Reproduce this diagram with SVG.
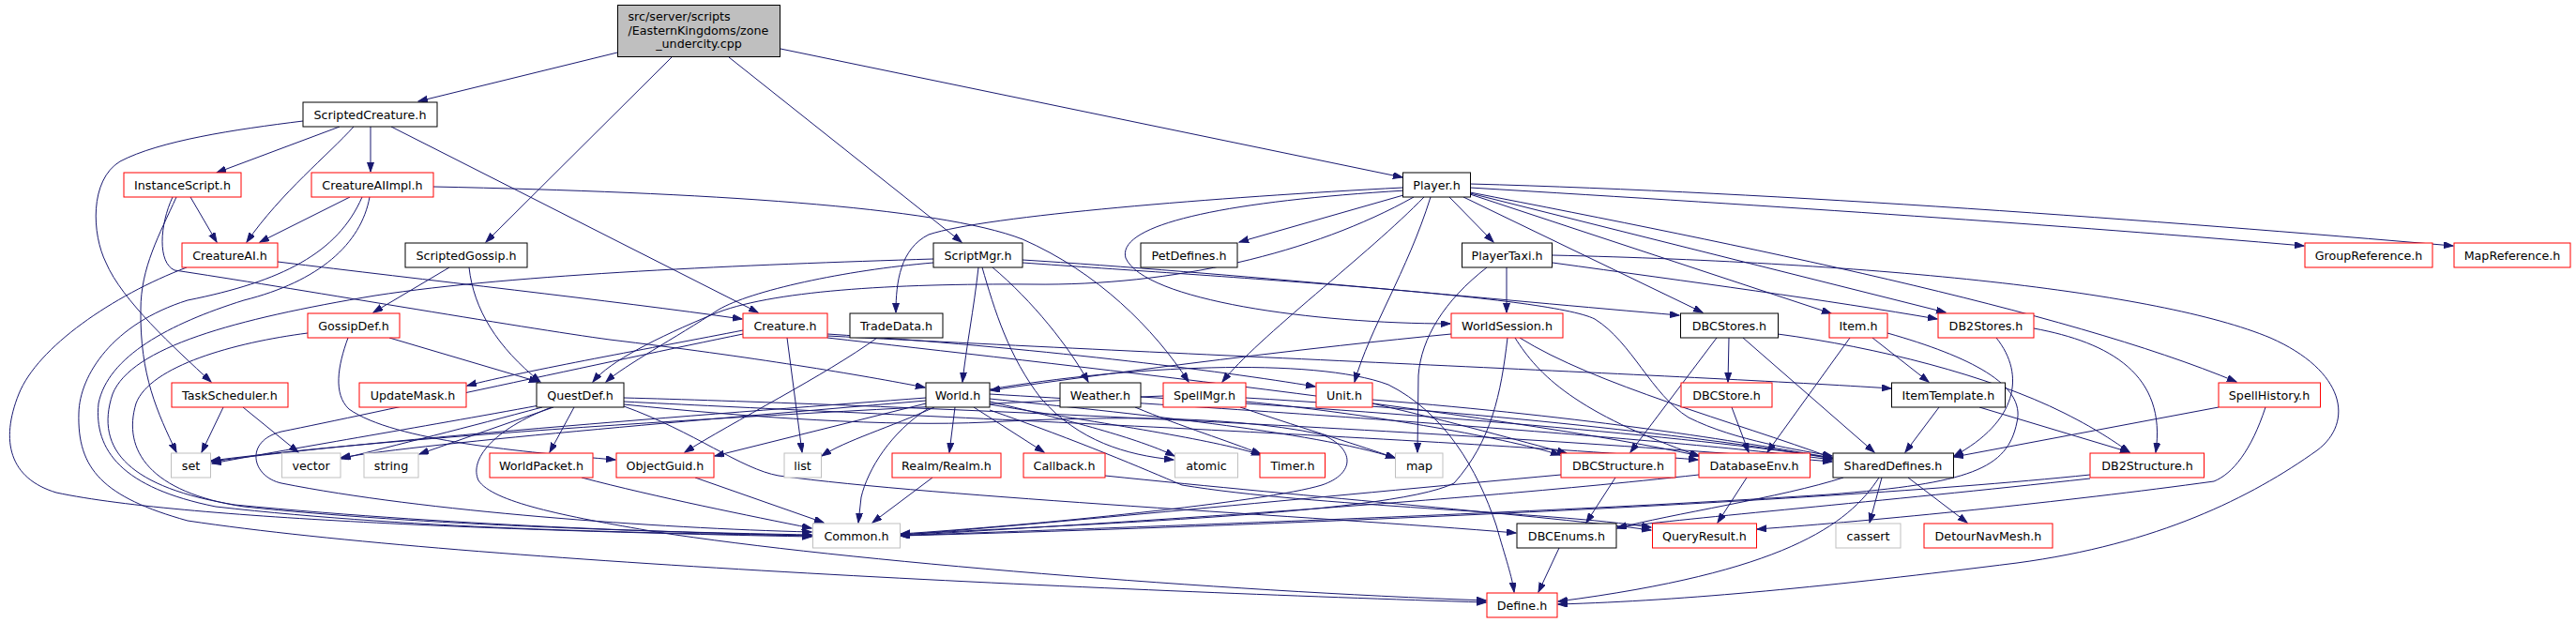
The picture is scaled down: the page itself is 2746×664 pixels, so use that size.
<svg xmlns="http://www.w3.org/2000/svg" width="2746" height="664" viewBox="0 0 2746 664">
<style>
text{font-family:"DejaVu Sans","Liberation Sans",sans-serif;font-size:12.7px;fill:#000;text-anchor:middle}
rect{fill:#fff;stroke-width:1}
.n rect{stroke:#000}
.r rect{stroke:#ff0000}
.g rect{stroke:#bfbfbf}
.m rect{fill:#bfbfbf;stroke:#000}
#edges path{fill:none;stroke:#191970;stroke-width:1;marker-end:url(#a)}
</style>
<defs>
<marker id="a" markerWidth="11" markerHeight="8" refX="10" refY="3.5" orient="auto" markerUnits="userSpaceOnUse"><path d="M0,0 L10,3.5 L0,7 z" fill="#191970" stroke="#191970" stroke-width="1"/></marker>
</defs>
<rect x="0" y="0" width="2746" height="664" style="fill:#fff;stroke:none"/>
<g id="edges">
<path d="M658,56 L446,108"/>
<path d="M716,61 L518,258"/>
<path d="M777,61 L1025,258"/>
<path d="M832,52 L1495,189"/>
<path d="M362,135 L231,184"/>
<path d="M395,135 L395,183"/>
<path d="M377,135 C350,165 300,205 263,258"/>
<path d="M417,135 L808,333"/>
<path d="M323,129 C250,138 170,150 128,172 C95,192 98,250 113,280 C130,320 185,370 225,407"/>
<path d="M203,210 L231,258"/>
<path d="M188,210 C170,250 150,285 150,330 C149,400 168,440 188,482"/>
<path d="M184,210 C170,240 168,280 186,288 C300,305 560,350 650,362 C800,380 920,400 986,413"/>
<path d="M373,210 L277,258"/>
<path d="M462,199 C750,205 1000,220 1090,255 C1170,290 1230,350 1267,407"/>
<path d="M394,210 C385,260 340,300 260,320 C180,345 115,380 105,430 C100,480 130,520 230,540 C450,565 700,568 865,571"/>
<path d="M386,210 C360,270 300,300 200,320 C120,345 85,400 84,440 C82,500 110,530 200,555 C500,600 1200,630 1584,642"/>
<path d="M296,279 C450,298 650,320 791,340"/>
<path d="M199,285 C120,315 40,370 20,420 C0,470 10,510 60,525 C200,555 600,567 865,572"/>
<path d="M479,285 L398,333"/>
<path d="M500,285 C505,330 530,370 576,407"/>
<path d="M415,360 L574,407"/>
<path d="M328,355 C250,365 160,390 145,430 C130,480 160,525 260,540 C450,560 700,567 865,570"/>
<path d="M371,360 C360,390 355,420 372,436 C420,470 560,482 656,490"/>
<path d="M238,434 L215,482"/>
<path d="M259,434 L318,482"/>
<path d="M792,352 C700,370 560,395 498,411"/>
<path d="M792,356 C650,385 400,440 300,460 C260,470 268,508 300,515 C450,545 700,563 865,567"/>
<path d="M839,360 L855,482"/>
<path d="M882,356 C1100,370 1300,395 1402,412"/>
<path d="M882,358 C1300,380 1800,400 2016,414"/>
<path d="M882,360 C1100,385 1600,440 1812,486"/>
<path d="M935,360 C880,400 780,450 730,482"/>
<path d="M1495,200 C1300,210 1050,230 990,250 C960,265 955,300 955,333"/>
<path d="M1498,203 C1300,215 1190,240 1200,275 C1220,320 1400,345 1546,345"/>
<path d="M1496,208 L1321,258"/>
<path d="M1507,210 C1400,270 1250,305 1100,303 C950,302 820,310 760,335 C700,360 650,385 632,407"/>
<path d="M1518,210 C1460,270 1340,360 1303,407"/>
<path d="M1525,210 C1500,290 1460,350 1444,407"/>
<path d="M1545,210 L1592,258"/>
<path d="M1560,210 L1815,333"/>
<path d="M1567,207 L1952,334"/>
<path d="M1567,206 L2074,333"/>
<path d="M1567,205 C1850,260 2200,330 2384,407"/>
<path d="M1567,200 C1900,220 2200,240 2456,262"/>
<path d="M1567,196 C1900,205 2300,235 2615,262"/>
<path d="M1606,285 L1606,333"/>
<path d="M1655,280 C1800,300 1950,320 2065,340"/>
<path d="M1585,285 C1540,320 1515,360 1512,400 L1511,482"/>
<path d="M1655,272 C2000,280 2300,310 2420,360 C2500,395 2510,450 2470,480 C2400,530 2300,580 2150,600 C1950,625 1800,640 1661,644"/>
<path d="M1043,285 C1038,330 1030,370 1026,407"/>
<path d="M1058,285 C1100,320 1140,370 1160,407"/>
<path d="M1047,285 C1060,330 1075,380 1110,425 C1150,470 1200,485 1251,490"/>
<path d="M1090,277 C1300,290 1600,320 1790,336"/>
<path d="M1090,280 C1300,295 1650,315 1700,340 C1740,365 1760,420 1800,445 C1850,470 1920,480 1953,486"/>
<path d="M995,280 C900,288 800,310 766,330 C720,360 665,390 646,407"/>
<path d="M995,276 C800,282 550,292 400,315 C250,340 140,370 120,420 C100,480 140,520 250,538 C500,562 750,568 865,571"/>
<path d="M987,430 L762,486"/>
<path d="M996,434 C950,455 900,470 876,486"/>
<path d="M1018,434 L1012,482"/>
<path d="M1038,434 L1113,482"/>
<path d="M990,435 C950,460 925,500 918,530 L915,557"/>
<path d="M1055,428 C1150,450 1220,470 1252,486"/>
<path d="M1055,431 C1200,455 1300,470 1344,485"/>
<path d="M1055,425 C1200,440 1400,460 1487,488"/>
<path d="M1055,420 C1400,440 1800,470 1953,490"/>
<path d="M1055,437 C1150,470 1220,500 1260,517 C1400,540 1650,545 1760,562"/>
<path d="M987,424 C800,438 400,468 225,492"/>
<path d="M987,427 C800,443 450,472 363,488"/>
<path d="M1055,415 C1200,390 1400,380 1480,410 C1540,440 1575,500 1595,560 C1605,595 1612,615 1614,631"/>
<path d="M994,509 L930,557"/>
<path d="M1178,507 C1400,530 1650,550 1760,565"/>
<path d="M741,509 L878,557"/>
<path d="M620,509 C700,530 800,550 865,563"/>
<path d="M1210,434 C1260,455 1310,470 1344,484"/>
<path d="M1216,423 C1500,440 1800,465 1953,488"/>
<path d="M1240,422 C900,436 450,462 225,491"/>
<path d="M1322,434 C1400,460 1450,475 1487,488"/>
<path d="M1328,428 C1450,440 1600,465 1663,485"/>
<path d="M1328,424 C1600,440 1850,470 1953,489"/>
<path d="M665,431 C800,445 950,455 1052,450 C1150,445 1300,440 1409,463 C1445,478 1445,505 1409,517 C1350,535 1100,560 960,569"/>
<path d="M1463,430 C1550,450 1620,470 1670,483"/>
<path d="M1463,426 C1700,445 1850,470 1953,488"/>
<path d="M1547,356 C1400,370 1200,395 1056,416"/>
<path d="M1607,360 C1600,420 1590,470 1550,515 C1480,550 1100,560 960,570"/>
<path d="M1615,360 C1640,400 1680,440 1811,486"/>
<path d="M1620,360 C1700,410 1850,450 1953,488"/>
<path d="M1830,360 L1738,482"/>
<path d="M1843,360 L1842,407"/>
<path d="M1858,360 L1998,482"/>
<path d="M1895,356 C2000,370 2120,400 2200,440 C2240,460 2260,475 2270,482"/>
<path d="M1846,434 L1864,482"/>
<path d="M1972,360 L1884,482"/>
<path d="M1996,360 L2056,407"/>
<path d="M2012,355 C2100,380 2160,410 2150,450 C2140,500 2100,515 1950,527 C1600,550 1100,565 960,571"/>
<path d="M2128,360 C2160,400 2150,450 2083,486"/>
<path d="M2168,350 C2250,365 2310,400 2298,482"/>
<path d="M2067,434 L2031,482"/>
<path d="M2110,434 L2270,482"/>
<path d="M2365,434 L2083,487"/>
<path d="M2415,434 C2400,480 2380,505 2360,513 C2200,535 2000,555 1873,564"/>
<path d="M1722,509 L1691,557"/>
<path d="M1664,506 C1400,530 1100,560 960,570"/>
<path d="M1862,509 L1831,557"/>
<path d="M1811,506 C1500,540 1100,562 960,571"/>
<path d="M2006,509 L1993,557"/>
<path d="M2034,509 L2097,557"/>
<path d="M2003,509 C1970,560 1900,610 1661,641"/>
<path d="M1965,509 C1900,530 1780,548 1724,563"/>
<path d="M2228,506 C1900,540 1200,565 960,571"/>
<path d="M2228,510 C2000,535 1800,552 1724,562"/>
<path d="M1662,584 L1640,631"/>
<path d="M578,434 C500,455 420,475 364,489"/>
<path d="M590,434 L447,484"/>
<path d="M575,432 C450,455 300,480 226,494"/>
<path d="M612,434 L586,482"/>
<path d="M588,434 C525,458 500,490 510,512 C525,535 600,550 700,567 C900,598 1300,630 1584,640"/>
<path d="M665,433 C740,460 790,500 830,507 C1000,530 1400,550 1616,568"/>
<path d="M665,424 C900,430 1500,455 1953,492"/>
<path d="M665,428 C900,440 1500,465 1810,490"/>
</g>
<g id="n_main" class="m"><rect x="658.5" y="5.5" width="173" height="55"/><text x="669.5" y="21.5" style="text-anchor:start">src/server/scripts</text><text x="669.5" y="36.5" style="text-anchor:start">/EasternKingdoms/zone</text><text x="745" y="51">_undercity.cpp</text></g>
<g id="n_ScriptedCreature" class="n"><rect x="323" y="109" width="143" height="26"/><text x="394.5" y="126.5">ScriptedCreature.h</text></g>
<g id="n_InstanceScript" class="r"><rect x="132" y="184" width="125" height="26"/><text x="194.5" y="201.5">InstanceScript.h</text></g>
<g id="n_CreatureAIImpl" class="r"><rect x="332" y="184" width="130" height="26"/><text x="397" y="201.5">CreatureAIImpl.h</text></g>
<g id="n_Player" class="n"><rect x="1495.5" y="184" width="72" height="26"/><text x="1531.5" y="201.5">Player.h</text></g>
<g id="n_CreatureAI" class="r"><rect x="194" y="259" width="102" height="26"/><text x="245" y="276.5">CreatureAI.h</text></g>
<g id="n_ScriptedGossip" class="n"><rect x="432" y="259" width="130" height="26"/><text x="497" y="276.5">ScriptedGossip.h</text></g>
<g id="n_ScriptMgr" class="n"><rect x="995" y="259" width="95" height="26"/><text x="1042.5" y="276.5">ScriptMgr.h</text></g>
<g id="n_PetDefines" class="n"><rect x="1216" y="259" width="103" height="26"/><text x="1267.5" y="276.5">PetDefines.h</text></g>
<g id="n_PlayerTaxi" class="n"><rect x="1558.5" y="259" width="96" height="26"/><text x="1606.5" y="276.5">PlayerTaxi.h</text></g>
<g id="n_GroupReference" class="r"><rect x="2457" y="259" width="136" height="26"/><text x="2525" y="276.5">GroupReference.h</text></g>
<g id="n_MapReference" class="r"><rect x="2616" y="259" width="124" height="26"/><text x="2678" y="276.5">MapReference.h</text></g>
<g id="n_GossipDef" class="r"><rect x="328" y="334" width="98" height="26"/><text x="377" y="351.5">GossipDef.h</text></g>
<g id="n_Creature" class="r"><rect x="792" y="334" width="90" height="26"/><text x="837" y="351.5">Creature.h</text></g>
<g id="n_TradeData" class="n"><rect x="906" y="334" width="99" height="26"/><text x="955.5" y="351.5">TradeData.h</text></g>
<g id="n_WorldSession" class="r"><rect x="1547" y="334" width="119" height="26"/><text x="1606.5" y="351.5">WorldSession.h</text></g>
<g id="n_DBCStores" class="n"><rect x="1791.5" y="334" width="104" height="26"/><text x="1843.5" y="351.5">DBCStores.h</text></g>
<g id="n_Item" class="r"><rect x="1950" y="334" width="62" height="26"/><text x="1981" y="351.5">Item.h</text></g>
<g id="n_DB2Stores" class="r"><rect x="2066" y="334" width="102" height="26"/><text x="2117" y="351.5">DB2Stores.h</text></g>
<g id="n_TaskScheduler" class="r"><rect x="183" y="408" width="124" height="26"/><text x="245" y="425.5">TaskScheduler.h</text></g>
<g id="n_UpdateMask" class="r"><rect x="383" y="408" width="114" height="26"/><text x="440" y="425.5">UpdateMask.h</text></g>
<g id="n_QuestDef" class="n"><rect x="572" y="408" width="93" height="26"/><text x="618.5" y="425.5">QuestDef.h</text></g>
<g id="n_World" class="n"><rect x="987" y="408" width="68" height="26"/><text x="1021" y="425.5">World.h</text></g>
<g id="n_Weather" class="n"><rect x="1130" y="408" width="86" height="26"/><text x="1173" y="425.5">Weather.h</text></g>
<g id="n_SpellMgr" class="r"><rect x="1240" y="408" width="88" height="26"/><text x="1284" y="425.5">SpellMgr.h</text></g>
<g id="n_Unit" class="r"><rect x="1403" y="408" width="60" height="26"/><text x="1433" y="425.5">Unit.h</text></g>
<g id="n_DBCStore" class="r"><rect x="1792" y="408" width="97" height="26"/><text x="1840.5" y="425.5">DBCStore.h</text></g>
<g id="n_ItemTemplate" class="n"><rect x="2016.5" y="408" width="121" height="26"/><text x="2077" y="425.5">ItemTemplate.h</text></g>
<g id="n_SpellHistory" class="r"><rect x="2365" y="408" width="108.5" height="26"/><text x="2419" y="425.5">SpellHistory.h</text></g>
<g id="n_set" class="g"><rect x="182.5" y="483" width="42" height="26"/><text x="203.5" y="500.5">set</text></g>
<g id="n_vector" class="g"><rect x="300.5" y="483" width="62.5" height="26"/><text x="331.5" y="500.5">vector</text></g>
<g id="n_string" class="g"><rect x="388" y="483" width="58" height="26"/><text x="417" y="500.5">string</text></g>
<g id="n_WorldPacket" class="r"><rect x="522" y="483" width="110" height="26"/><text x="577" y="500.5">WorldPacket.h</text></g>
<g id="n_ObjectGuid" class="r"><rect x="657" y="483" width="104" height="26"/><text x="709" y="500.5">ObjectGuid.h</text></g>
<g id="n_list" class="g"><rect x="836" y="483" width="39.5" height="26"/><text x="855.5" y="500.5">list</text></g>
<g id="n_Realm" class="r"><rect x="951" y="483" width="116" height="26"/><text x="1009" y="500.5">Realm/Realm.h</text></g>
<g id="n_Callback" class="r"><rect x="1091" y="483" width="87" height="26"/><text x="1134.5" y="500.5">Callback.h</text></g>
<g id="n_atomic" class="g"><rect x="1252.5" y="483" width="67" height="26"/><text x="1286" y="500.5">atomic</text></g>
<g id="n_Timer" class="r"><rect x="1343" y="483" width="69.5" height="26"/><text x="1378" y="500.5">Timer.h</text></g>
<g id="n_map" class="g"><rect x="1487.5" y="483" width="50.5" height="26"/><text x="1513" y="500.5">map</text></g>
<g id="n_DBCStructure" class="r"><rect x="1664" y="483" width="122" height="26"/><text x="1725" y="500.5">DBCStructure.h</text></g>
<g id="n_DatabaseEnv" class="r"><rect x="1811" y="483" width="118.5" height="26"/><text x="1870" y="500.5">DatabaseEnv.h</text></g>
<g id="n_SharedDefines" class="n"><rect x="1954" y="483" width="128.5" height="26"/><text x="2018" y="500.5">SharedDefines.h</text></g>
<g id="n_DB2Structure" class="r"><rect x="2228" y="483" width="121.5" height="26"/><text x="2289" y="500.5">DB2Structure.h</text></g>
<g id="n_Common" class="g"><rect x="866.5" y="558" width="93" height="26"/><text x="913" y="575.5">Common.h</text></g>
<g id="n_DBCEnums" class="n"><rect x="1617" y="558" width="106" height="26"/><text x="1670" y="575.5">DBCEnums.h</text></g>
<g id="n_QueryResult" class="r"><rect x="1761.5" y="558" width="111" height="26"/><text x="1817" y="575.5">QueryResult.h</text></g>
<g id="n_cassert" class="g"><rect x="1957" y="558" width="69" height="26"/><text x="1991.5" y="575.5">cassert</text></g>
<g id="n_DetourNavMesh" class="r"><rect x="2051" y="558" width="137" height="26"/><text x="2119.5" y="575.5">DetourNavMesh.h</text></g>
<g id="n_Define" class="r"><rect x="1585" y="632" width="75" height="26"/><text x="1622.5" y="649.5">Define.h</text></g>
</svg>
